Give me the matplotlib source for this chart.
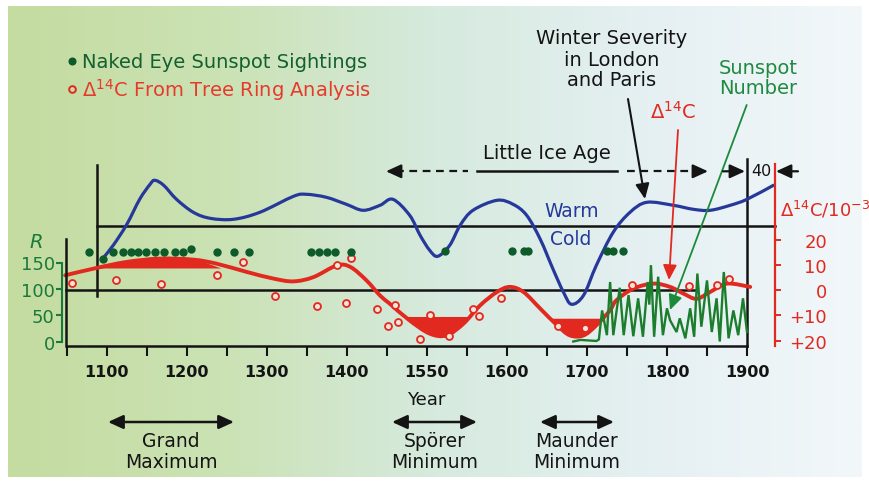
import numpy as np
import matplotlib
matplotlib.use("Agg")
import matplotlib.pyplot as plt
from matplotlib.path import Path
from matplotlib.patches import PathPatch

plt.rcParams['font.family'] = ['DejaVu Sans']
plt.rcParams['mathtext.fontset'] = 'dejavusans'

# ---------------- data ----------------
tick_years = [1100, 1200, 1300, 1400, 1500, 1600, 1700, 1800, 1900]
tick_labels = ['1100', '1200', '1300', '1400', '1550', '1600', '1700', '1800', '1900']
minor_years = [1050, 1150, 1250, 1350, 1450, 1550, 1650, 1750, 1850]

# winter severity (arbitrary index, + = warm)
winter_years = [1095, 1109, 1126, 1142, 1155, 1161, 1172, 1188, 1209, 1230, 1259, 1292,
                1334, 1350, 1375, 1400, 1421, 1442, 1458, 1479, 1492, 1504, 1514, 1529,
                1542, 1558, 1588, 1608, 1625, 1642, 1658, 1671, 1681, 1696, 1712, 1733,
                1754, 1775, 1808, 1833, 1854, 1879, 1900, 1933]
winter_index = [-3.3, -1.9, 0.2, 2.7, 4.2, 4.6, 4.1, 2.7, 1.4, 0.8, 0.7, 1.4,
                3.0, 3.2, 2.9, 2.2, 1.6, 2.1, 2.7, 1.1, -0.9, -2.4, -3.0, -1.9,
                0.1, 1.6, 2.6, 2.2, 1.1, -1.3, -4.3, -6.6, -7.8, -6.9, -3.9, -0.6,
                1.4, 2.4, 2.1, 1.7, 1.6, 2.1, 2.7, 4.1]

# smoothed delta 14C (per mil, axis inverted)
c14_years = [1049, 1088, 1126, 1167, 1209, 1238, 1276, 1309, 1334, 1359, 1388, 1405,
             1425, 1442, 1454, 1479, 1504, 1525, 1546, 1567, 1588, 1604, 1621, 1642,
             1663, 1679, 1696, 1712, 1729, 1737, 1758, 1783, 1804, 1821, 1837, 1854,
             1875, 1904]
c14_curve = [-5.9, -8.8, -11.2, -12.5, -12.1, -10.5, -7.2, -4.6, -3.5, -5.2, -9.8, -9.2,
             -3.9, 2.1, 5.3, 12.0, 17.2, 17.9, 13.3, 6.0, 0.7, -1.3, 0.7, 7.3,
             13.9, 17.9, 17.9, 13.9, 8.0, 4.0, -0.6, -2.6, -1.3, 1.4, 3.4, 0.7,
             -2.6, -1.3]

# tree-ring measurements
c14_obs_years = [1057, 1112, 1169, 1239, 1271, 1311, 1363, 1388, 1400, 1406, 1438, 1452,
                 1461, 1465, 1492, 1504, 1528, 1558, 1565, 1593, 1664, 1698, 1756, 1828,
                 1862, 1877]
c14_obs = [-2.9, -3.9, -2.6, -5.9, -11.2, 2.1, 6.4, -9.8, 5.0, -12.8, 7.3, 14.2,
           6.0, 12.4, 19.2, 9.7, 18.3, 7.3, 10.2, 3.1, 14.2, 15.0, -2.2, -1.7,
           -1.9, -4.3]

# shaded excursions (edge along the curve, closed along a level)
grand_years = [1090, 1126, 1167, 1209, 1244]
grand_vals = [-8.6, -11.2, -12.5, -12.1, -8.6]
spoerer_years = [1474, 1479, 1504, 1525, 1546, 1554]
spoerer_vals = [10.6, 12.0, 17.2, 17.9, 13.3, 10.6]
maunder_years = [1655, 1663, 1679, 1696, 1712, 1719]
maunder_vals = [11.3, 13.9, 17.9, 17.9, 13.9, 11.3]

# naked-eye sunspot sightings
sight_years = [1078, 1095, 1108, 1120, 1130, 1139, 1149, 1160, 1172, 1185, 1196, 1205,
               1238, 1259, 1278, 1356, 1366, 1375, 1385, 1405, 1523, 1607, 1621, 1627,
               1725, 1733, 1745]
sight_level = [170, 157, 170, 170, 170, 170, 170, 170, 170, 170, 170, 175,
               170, 170, 170, 170, 170, 170, 170, 170, 172, 172, 171, 171,
               172, 172, 172]

# sunspot number R
ssn_years = [1683, 1692, 1712, 1715, 1719, 1725, 1729, 1733, 1741, 1746, 1752, 1758,
             1764, 1770, 1776, 1778, 1780, 1784, 1789, 1795, 1800, 1804, 1812, 1816,
             1823, 1829, 1834, 1838, 1843, 1850, 1856, 1862, 1866, 1871, 1877, 1883,
             1889, 1895, 1900]
ssn = [0, 3, 1, 4, 59, 12, 113, 12, 102, 12, 88, 10,
       82, 9, 113, 70, 145, 9, 123, 12, 63, 40, 18, 44,
       6, 63, 9, 129, 28, 116, 18, 82, 0, 132, 6, 59,
       12, 82, 18]

r_ticks = [0, 50, 100, 150]
r_tick_labels = ['0', '50', '100', '150']
c_ticks = [-20, -10, 0, 10, 20]
c_tick_labels = ['20', '10', '0', '+10', '+20']

# ---------------- layout ----------------
W, H = 870, 485
BLUE = '#26399a'
RED = '#e2291f'
DKGREEN = '#0d5a2a'
GREEN = '#1c7d2c'
TXTGREEN = '#1a7a3a'
BLACK = '#141414'


def fx(px):
    return px / W


def fy(py):
    return 1 - py / H


AX_L, AX_R, AX_T, AX_B = 66.5, 747.0, 150.0, 346.7
pos = [fx(AX_L), fy(AX_B), fx(AX_R) - fx(AX_L), fy(AX_T) - fy(AX_B)]


def cal(v1, p1, v2, p2):
    k = (v2 - v1) / (p2 - p1)
    return lambda p: v1 + (p - p1) * k


year_at = cal(1100, 106.0, 1900, 747.0)
r_at = cal(0, 342.5, 150, 263.5)
c_at = cal(-20, 240.7, 20, 341.7)
t_at = cal(0, 227.3, 1, 217.3)
XL = (year_at(AX_L), year_at(AX_R))


def smooth_path(x, y, close=False):
    pts = np.column_stack([x, y]).astype(float)
    n = len(pts)
    verts = [pts[0]]
    codes = [Path.MOVETO]
    for i in range(n - 1):
        p0 = pts[i - 1] if i > 0 else pts[i]
        p1, p2 = pts[i], pts[i + 1]
        p3 = pts[i + 2] if i + 2 < n else pts[i + 1]
        verts += [p1 + (p2 - p0) / 6.0, p2 - (p3 - p1) / 6.0, p2]
        codes += [Path.CURVE4] * 3
    if close:
        verts += [pts[0], pts[0]]
        codes += [Path.LINETO, Path.CLOSEPOLY]
    return Path(verts, codes)


fig = plt.figure(figsize=(W / 100, H / 100), dpi=100)
fig.patch.set_facecolor('white')

# background
bg = fig.add_axes([0, 0, 1, 1])
bg.set_xlim(0, W)
bg.set_ylim(H, 0)
bg.axis('off')
grad_x = [0.0, 0.25, 0.5, 0.75, 1.0]
grad_rgb = [(196, 220, 160), (203, 226, 180), (214, 234, 222), (229, 240, 242), (242, 247, 250)]
tt = np.linspace(0, 1, 400)
row = np.stack([np.interp(tt, grad_x, [c[i] for c in grad_rgb]) for i in range(3)], axis=-1) / 255
bg.imshow(np.tile(row[None, :, :], (2, 1, 1)), extent=(8, 862, 478, 7), aspect='auto',
          interpolation='bilinear')
# structural black lines
bg.plot([97, 775], [227.3, 227.3], color=BLACK, lw=1.8)
bg.plot([66, 695], [290.7, 290.7], color=BLACK, lw=1.8)
bg.plot([96.7, 96.7], [166, 297], color=BLACK, lw=1.8)
bg.plot([747, 747], [160, 346.7], color=BLACK, lw=1.8)


def data_axes():
    a = fig.add_axes(pos)
    a.patch.set_visible(False)
    a.set_xlim(*XL)
    for s in a.spines.values():
        s.set_visible(False)
    a.set_xticks([])
    a.set_yticks([])
    return a


# winter severity
axT = data_axes()
axT.set_ylim(t_at(AX_B), t_at(AX_T))
axT.add_patch(PathPatch(smooth_path(winter_years, winter_index), fill=False,
                        edgecolor=BLUE, lw=2.3, capstyle='round', clip_on=False))

# delta 14C
axC = data_axes()
axC.set_ylim(c_at(AX_B), c_at(AX_T))
for xs, vs in [(grand_years, grand_vals), (spoerer_years, spoerer_vals), (maunder_years, maunder_vals)]:
    axC.add_patch(PathPatch(smooth_path(xs, vs, close=True), facecolor=RED, edgecolor='none',
                            clip_on=False))
axC.add_patch(PathPatch(smooth_path(c14_years, c14_curve), fill=False, edgecolor=RED,
                        lw=2.8, capstyle='round', clip_on=False))
axC.plot(c14_obs_years, c14_obs, 'o', ms=5, mfc='#f7e3d8', mec=RED, mew=1.3,
         linestyle='none', clip_on=False)
axC.spines['right'].set_visible(True)
axC.spines['right'].set_position(('outward', (775 - AX_R) * 0.72))
axC.spines['right'].set_bounds(c_at(165), c_at(AX_B))
axC.spines['right'].set_color(RED)
axC.spines['right'].set_linewidth(1.6)
axC.yaxis.set_ticks_position('right')
axC.set_yticks(c_ticks)
axC.set_yticklabels(c_tick_labels)
axC.tick_params(axis='y', direction='out', length=4.3, width=1.4, colors=RED,
                labelsize=13, pad=(827 - 781) * 0.72)
for lbl in axC.get_yticklabels():
    lbl.set_ha('right')

# sunspot number axes (also carries the year axis)
axR = data_axes()
axR.set_ylim(r_at(AX_B), r_at(AX_T))
axR.plot(ssn_years, ssn, color=GREEN, lw=1.7, clip_on=False, solid_joinstyle='miter')
axR.plot(sight_years, sight_level, 'o', ms=5, color=DKGREEN, linestyle='none', clip_on=False)
axR.spines['bottom'].set_visible(True)
axR.spines['bottom'].set_linewidth(1.8)
axR.spines['bottom'].set_color(BLACK)
axR.spines['left'].set_visible(True)
axR.spines['left'].set_linewidth(1.8)
axR.spines['left'].set_color(BLACK)
axR.spines['left'].set_bounds(r_at(AX_B), r_at(240))
axR.set_xticks(tick_years)
axR.set_xticklabels(tick_labels)
axR.set_xticks(minor_years, minor=True)
axR.tick_params(axis='x', which='both', direction='out', length=7.2, width=1.5, color=BLACK,
                labelsize=11.5, pad=6, labelcolor=BLACK)
for lbl in axR.get_xticklabels():
    lbl.set_fontweight('bold')

# green R scale
axG = data_axes()
axG.set_ylim(r_at(AX_B), r_at(AX_T))
axG.spines['left'].set_visible(True)
axG.spines['left'].set_position(('outward', (AX_L - 61.7) * 0.72))
axG.spines['left'].set_bounds(0, 150)
axG.spines['left'].set_color(TXTGREEN)
axG.spines['left'].set_linewidth(1.5)
axG.set_yticks(r_ticks)
axG.set_yticklabels(r_tick_labels)
axG.tick_params(axis='y', direction='out', length=4.5, width=1.5, colors=TXTGREEN,
                labelsize=13, pad=0.5)

# ---------------- annotations (pixel overlay) ----------------
ov = fig.add_axes([0, 0, 1, 1])
ov.set_xlim(0, W)
ov.set_ylim(H, 0)
ov.axis('off')
ov.patch.set_visible(False)


def arrow(x0, y0, x1, y1, color=BLACK, style='-|>', lw=1.6, ms=13):
    ov.annotate('', xy=(x1, y1), xytext=(x0, y0),
                arrowprops=dict(arrowstyle=style + ',head_length=0.7,head_width=0.32',
                                color=color, lw=lw, shrinkA=0, shrinkB=0, mutation_scale=ms))


# legend
ov.plot([71.7], [61.7], 'o', ms=4.8, color=DKGREEN)
ov.text(82, 62, 'Naked Eye Sunspot Sightings', fontsize=14, color='#14602f', va='center', ha='left')
ov.plot([71.7], [90], 'o', ms=4.8, mfc='none', mec=RED, mew=1.4)
ov.text(82, 90, r'$\Delta^{14}$C From Tree Ring Analysis', fontsize=14, color='#e63a2c',
        va='center', ha='left')

# upper right labels
for txt, y in [('Winter Severity', 38), ('in London', 60), ('and Paris', 80)]:
    ov.text(611.7, y, txt, fontsize=14, color=BLACK, ha='center', va='center')
for txt, y in [('Sunspot', 68), ('Number', 88)]:
    ov.text(758, y, txt, fontsize=14, color='#1f8a3f', ha='center', va='center')
ov.text(673, 112, r'$\Delta^{14}$C', fontsize=14, color=RED, ha='center', va='center')
arrow(628, 100, 645, 200, color=BLACK, lw=1.5)
arrow(678, 131, 669, 281, color=RED, lw=1.3)
arrow(746.7, 106, 670, 311, color='#1c8a3a', lw=1.3)

# little ice age
ov.text(546.7, 154, 'Little Ice Age', fontsize=14, color=BLACK, ha='center', va='center')
ov.plot([396, 468], [172.3, 172.3], color=BLACK, lw=1.6, ls=(0, (3.5, 2.5)))
ov.plot([477, 617], [172.3, 172.3], color=BLACK, lw=1.8)
ov.plot([627, 698], [172.3, 172.3], color=BLACK, lw=1.6, ls=(0, (3.5, 2.5)))
arrow(398, 172.3, 386, 172.3)
arrow(696, 172.3, 708, 172.3)
arrow(723, 172.3, 745, 172.3)
arrow(798, 172.3, 776, 172.3)
ov.text(761.5, 172, '40', fontsize=11.5, color=BLACK, ha='center', va='center')

ov.text(571.7, 212, 'Warm', fontsize=13.5, color=BLUE, ha='center', va='center')
ov.text(570.7, 240, 'Cold', fontsize=13.5, color=BLUE, ha='center', va='center')

# axes titles
ov.text(36.7, 243, 'R', fontsize=14, color=TXTGREEN, style='italic', ha='center', va='center')
ov.text(780, 210, r'$\Delta^{14}$C/10$^{-3}$', fontsize=13, color=RED, ha='left', va='center')
ov.text(426, 400, 'Year', fontsize=13, color=BLACK, ha='center', va='center')

# solar episodes
for (xa, xb), l1, l2 in [((108, 234), 'Grand', 'Maximum'),
                         ((392, 477), 'Spörer', 'Minimum'),
                         ((540, 614), 'Maunder', 'Minimum')]:
    arrow(xa, 423, xb, 423, style='<|-|>', lw=1.8)
    xc = (xa + xb) / 2
    ov.text(xc, 442, l1, fontsize=13.5, color=BLACK, ha='center', va='center')
    ov.text(xc, 463, l2, fontsize=13.5, color=BLACK, ha='center', va='center')

fig.savefig('out.png', dpi=100)
